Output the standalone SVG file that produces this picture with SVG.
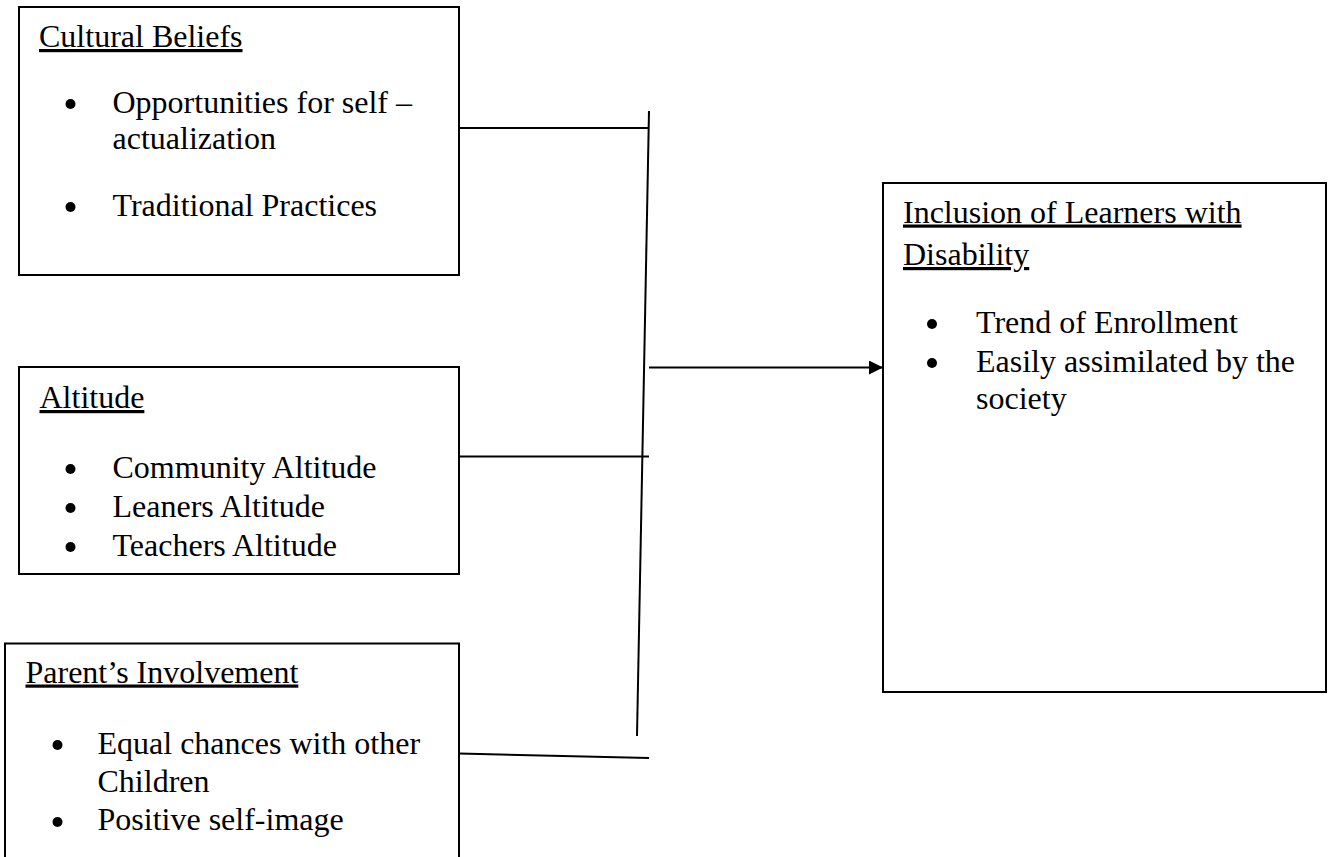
<svg xmlns="http://www.w3.org/2000/svg" width="1328" height="857" viewBox="0 0 1328 857">
  <defs>
    <style>
      .box { fill: #ffffff; stroke: #000000; stroke-width: 2; }
      .t { font-family: "Liberation Serif", "Times New Roman", serif; font-size: 32px; fill: #000000; }
      .h { text-decoration: underline; }
      .b { fill: #000000; }
      .c { stroke: #000000; stroke-width: 2; fill: none; }
    </style>
    <marker id="arrow" markerWidth="14" markerHeight="14" refX="14" refY="7" orient="auto" markerUnits="userSpaceOnUse">
      <path d="M0,0 L14,7 L0,14 Z" fill="#000000"/>
    </marker>
  </defs>
  <rect x="0" y="0" width="1328" height="857" fill="#ffffff"/>

  <g id="node-cultural-beliefs">
    <rect class="box" x="19" y="7" width="440" height="268"/>
    <text class="t h" x="39" y="47">Cultural Beliefs</text>
    <circle class="b" cx="70.5" cy="104" r="5"/>
    <text class="t" x="112.5" y="113">Opportunities for self –</text>
    <text class="t" x="112.5" y="149">actualization</text>
    <circle class="b" cx="70.5" cy="207" r="5"/>
    <text class="t" x="112.5" y="216">Traditional Practices</text>
  </g>

  <g id="node-altitude">
    <rect class="box" x="19" y="367" width="440" height="207"/>
    <text class="t h" x="39.5" y="408">Altitude</text>
    <circle class="b" cx="70.5" cy="469" r="5"/>
    <text class="t" x="112.5" y="478">Community Altitude</text>
    <circle class="b" cx="70.5" cy="508" r="5"/>
    <text class="t" x="112.5" y="517">Leaners Altitude</text>
    <circle class="b" cx="70.5" cy="547" r="5"/>
    <text class="t" x="112.5" y="556">Teachers Altitude</text>
  </g>

  <g id="node-parents-involvement">
    <path class="box" d="M5,870 L5,643.5 L459,643.5 L459,870"/>
    <text class="t h" x="25.5" y="682.5">Parent’s Involvement</text>
    <circle class="b" cx="57.5" cy="745" r="5"/>
    <text class="t" x="97.5" y="754">Equal chances with other</text>
    <text class="t" x="97.5" y="792">Children</text>
    <circle class="b" cx="57.5" cy="822" r="5"/>
    <text class="t" x="97.5" y="830">Positive self-image</text>
  </g>

  <g id="node-inclusion">
    <rect class="box" x="883" y="183" width="443" height="509"/>
    <text class="t h" x="903" y="222.5">Inclusion of Learners with</text>
    <text class="t h" x="903" y="265">Disability</text>
    <circle class="b" cx="932" cy="324" r="5"/>
    <text class="t" x="976" y="333">Trend of Enrollment</text>
    <circle class="b" cx="932" cy="363" r="5"/>
    <text class="t" x="976" y="372">Easily assimilated by the</text>
    <text class="t" x="976" y="409">society</text>
  </g>

  <g id="connectors">
    <line class="c" x1="459" y1="128" x2="649" y2="128"/>
    <line class="c" x1="459" y1="456.5" x2="649" y2="456.5" stroke-width="1.6"/>
    <line class="c" x1="459" y1="753.5" x2="649" y2="758"/>
    <line class="c" x1="649" y1="111" x2="637" y2="736"/>
    <line class="c" x1="649" y1="367.5" x2="883" y2="367.5" stroke-width="2.5" marker-end="url(#arrow)"/>
  </g>
</svg>
